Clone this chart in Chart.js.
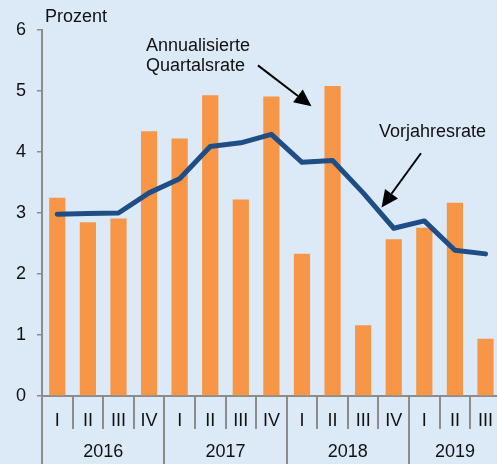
<!DOCTYPE html>
<html>
<head>
<meta charset="utf-8">
<script src="https://cdn.jsdelivr.net/npm/chart.js@4/dist/chart.umd.min.js"></script>
<style>
  html, body { margin: 0; padding: 0; overflow: hidden; background: #dce9f7; }
  #wrap { width: 497px; height: 464px; overflow: hidden; }
</style>
</head>
<body>
<div id="wrap"><canvas id="chart" width="507" height="464"></canvas></div>
<script>
// quarters on the x axis, grouped by year below
const quarters = ['I', 'II', 'III', 'IV', 'I', 'II', 'III', 'IV', 'I', 'II', 'III', 'IV', 'I', 'II', 'III'];
const years = ['2016', '2017', '2018', '2019'];
const quartersPerYear = [4, 4, 4, 3];

// annualised quarter-on-quarter rate (bars) and year-on-year rate (line), in percent
const quartalsrate = [3.25, 2.85, 2.91, 4.34, 4.22, 4.93, 3.22, 4.91, 2.33, 5.08, 1.16, 2.57, 2.76, 3.17, 0.94];
const vorjahresrate = [2.98, 2.99, 3.0, 3.33, 3.56, 4.09, 4.15, 4.29, 3.83, 3.86, 3.33, 2.75, 2.87, 2.39, 2.33];

const yTicks = [0, 1, 2, 3, 4, 5, 6];

const axisGrey = '#8c8c8c';
Chart.defaults.font.family = '"Liberation Sans", Arial, sans-serif';
Chart.defaults.font.size = 18;
Chart.defaults.color = '#111';

// separators, year labels, axis title and the two arrow notes
const extras = {
    id: 'extras',
    afterDraw(chart) {
        const ctx = chart.ctx;
        const x = chart.scales.x;
        const y = chart.scales.y;
        const area = chart.chartArea;
        const half = (x.getPixelForValue(1) - x.getPixelForValue(0)) / 2;

        ctx.save();
        ctx.strokeStyle = axisGrey;
        ctx.lineWidth = 2;
        let start = 0;
        const yearStarts = [];
        quartersPerYear.forEach(n => { yearStarts.push(start); start += n; });
        for (let i = 0; i <= quarters.length; i++) {
            const px = Math.round(x.getPixelForValue(i) - half);
            const isYear = yearStarts.includes(i);
            ctx.beginPath();
            ctx.moveTo(px, area.bottom);
            ctx.lineTo(px, isYear ? chart.height : area.bottom + 33);
            ctx.stroke();
        }

        ctx.fillStyle = '#111';
        ctx.font = '18px "Liberation Sans", Arial, sans-serif';
        ctx.textAlign = 'center';
        ctx.textBaseline = 'middle';
        years.forEach((yr, k) => {
            const first = yearStarts[k];
            const last = first + quartersPerYear[k] - 1;
            const cx = (x.getPixelForValue(first) + x.getPixelForValue(last)) / 2;
            ctx.fillText(yr, cx, area.bottom + 56);
        });

        ctx.textAlign = 'left';
        ctx.fillText('Prozent', area.left + 3, area.top - 13);

        // notes, placed in data units
        ctx.fillText('Annualisierte', x.getPixelForValue(2.9), y.getPixelForValue(5.74));
        ctx.fillText('Quartalsrate', x.getPixelForValue(2.9), y.getPixelForValue(5.41));
        ctx.fillText('Vorjahresrate', x.getPixelForValue(10.52), y.getPixelForValue(4.32));

        drawArrow(ctx, x.getPixelForValue(6.56), y.getPixelForValue(5.42), x.getPixelForValue(8.31), y.getPixelForValue(4.75));
        drawArrow(ctx, x.getPixelForValue(11.89), y.getPixelForValue(3.98), x.getPixelForValue(10.6), y.getPixelForValue(3.09));
        ctx.restore();
    }
};

function drawArrow(ctx, x0, y0, x1, y1) {
    const ang = Math.atan2(y1 - y0, x1 - x0);
    const len = 17, w = 8;
    const bx = x1 - len * Math.cos(ang), by = y1 - len * Math.sin(ang);
    ctx.strokeStyle = '#000';
    ctx.fillStyle = '#000';
    ctx.lineWidth = 2;
    ctx.beginPath();
    ctx.moveTo(x0, y0);
    ctx.lineTo(bx, by);
    ctx.stroke();
    ctx.beginPath();
    ctx.moveTo(x1, y1);
    ctx.lineTo(bx + w * Math.sin(ang), by - w * Math.cos(ang));
    ctx.lineTo(bx - w * Math.sin(ang), by + w * Math.cos(ang));
    ctx.closePath();
    ctx.fill();
}

const ctx = document.getElementById('chart');

if (ctx) {
    new Chart(ctx, {
        type: 'bar',
        data: {
            labels: quarters,
            datasets: [
                {
                    type: 'line',
                    label: 'Vorjahresrate',
                    data: vorjahresrate,
                    borderColor: '#1f4e86',
                    borderWidth: 5,
                    borderCapStyle: 'round',
                    borderJoinStyle: 'round',
                    pointRadius: 0,
                    tension: 0,
                    order: 1,
                },
                {
                    label: 'Annualisierte Quartalsrate',
                    data: quartalsrate,
                    backgroundColor: '#f79646',
                    categoryPercentage: 1,
                    barPercentage: 0.53,
                    order: 2,
                },
            ],
        },
        options: {
            responsive: false,
            animation: false,
            layout: { padding: { top: 30, right: 0, left: 0, bottom: 0 } },
            plugins: {
                legend: { display: false },
                tooltip: { enabled: false },
            },
            scales: {
                x: {
                    grid: { display: false, drawTicks: false },
                    border: { display: true, color: axisGrey, width: 2 },
                    ticks: { padding: 14, maxRotation: 0, autoSkip: false },
                    afterFit(scale) { scale.height = 68; },
                },
                y: {
                    min: 0,
                    max: 6,
                    afterBuildTicks(scale) { scale.ticks = yTicks.map(v => ({ value: v })); },
                    grid: { drawOnChartArea: false, color: axisGrey, lineWidth: 1.5, tickLength: 5 },
                    border: { display: true, color: axisGrey, width: 2 },
                    ticks: { padding: 11 },
                    afterFit(scale) { scale.width = 42; },
                },
            },
        },
        plugins: [extras],
    });
}
</script>
</body>
</html>
